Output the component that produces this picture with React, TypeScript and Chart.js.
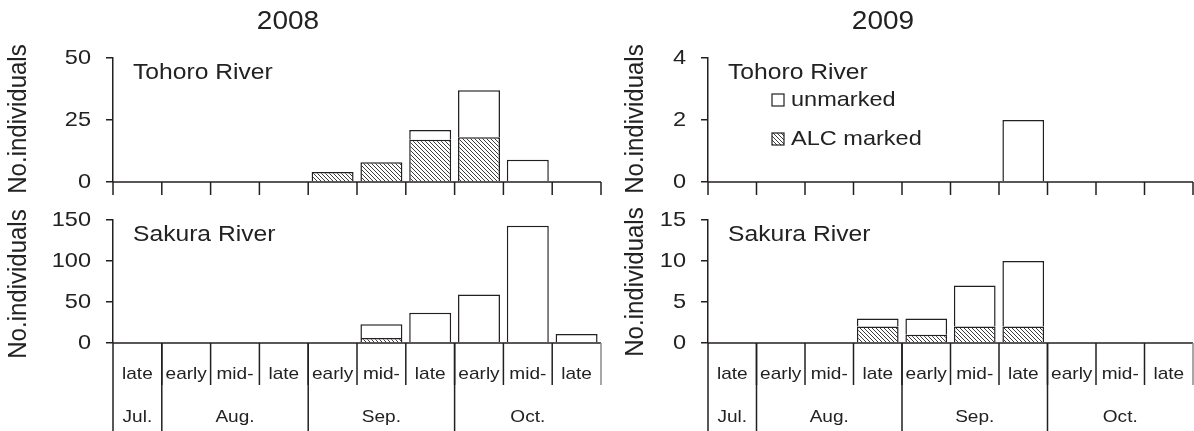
import React, { useEffect, useRef } from "react";
import { Chart, registerables } from "chart.js";

Chart.register(...registerables);

// ---------- data ----------
const categories = ["late", "early", "mid-", "late", "early", "mid-", "late", "early", "mid-", "late"];
const months = ["Jul.", "Aug.", "Sep.", "Oct."];
const monthSpans = [1, 3, 3, 3];

const tohoro2008Marked = [0, 0, 0, 0, 4, 8, 17, 18, 0, 0];
const tohoro2008Unmarked = [0, 0, 0, 0, 0, 0, 4, 19, 9, 0];
const sakura2008Marked = [0, 0, 0, 0, 0, 6, 0, 0, 0, 0];
const sakura2008Unmarked = [0, 0, 0, 0, 0, 17, 37, 59, 143, 11];
const tohoro2009Marked = [0, 0, 0, 0, 0, 0, 0, 0, 0, 0];
const tohoro2009Unmarked = [0, 0, 0, 0, 0, 0, 2, 0, 0, 0];
const sakura2009Marked = [0, 0, 0, 2, 1, 2, 2, 0, 0, 0];
const sakura2009Unmarked = [0, 0, 0, 1, 2, 5, 8, 0, 0, 0];

const yearTitles = ["2008", "2009"];
const riverNames = ["Tohoro River", "Sakura River"];
const yAxisMax = [50, 150, 4, 15];
const yAxisStep = [25, 50, 2, 5];
const legendLabels = ["unmarked", "ALC marked"];
const yAxisTitle = "No.individuals";

// ---------- layout ----------
const W = 1194;
const H = 431;
const FONT = "'Liberation Sans', Arial, sans-serif";
const INK = "#231f20";
const TEXT = "#222222";
const SX = 1.12; // horizontal text stretch seen in the reference

type PanelCfg = {
  left: number; right: number; top: number; bottom: number;
  marked: number[]; unmarked: number[];
  max: number; step: number;
  river: string; kind: "top" | "bottom";
  year?: string; legend?: boolean; titleX: number; titleY: number;
};

const panels: PanelCfg[] = [
  { left: 113, right: 601, top: 58, bottom: 182, marked: tohoro2008Marked, unmarked: tohoro2008Unmarked, max: yAxisMax[0], step: yAxisStep[0], river: riverNames[0], kind: "top", year: yearTitles[0], titleX: 19, titleY: 119 },
  { left: 113, right: 601, top: 220, bottom: 343, marked: sakura2008Marked, unmarked: sakura2008Unmarked, max: yAxisMax[1], step: yAxisStep[1], river: riverNames[1], kind: "bottom", titleX: 19, titleY: 284 },
  { left: 708, right: 1193, top: 58, bottom: 182, marked: tohoro2009Marked, unmarked: tohoro2009Unmarked, max: yAxisMax[2], step: yAxisStep[2], river: riverNames[0], kind: "top", year: yearTitles[1], legend: true, titleX: 636, titleY: 119 },
  { left: 708, right: 1193, top: 220, bottom: 343, marked: sakura2009Marked, unmarked: sakura2009Unmarked, max: yAxisMax[3], step: yAxisStep[3], river: riverNames[1], kind: "bottom", titleX: 636, titleY: 282 },
];

function makeHatch(): CanvasPattern | string {
  const c = document.createElement("canvas");
  c.width = 4;
  c.height = 4;
  const g = c.getContext("2d");
  if (!g) return "#888";
  g.fillStyle = "#ffffff";
  g.fillRect(0, 0, 4, 4);
  g.strokeStyle = "#3c3c3c";
  g.lineWidth = 1;
  g.beginPath();
  g.moveTo(-1, -1); g.lineTo(5, 5);
  g.moveTo(-1, 3); g.lineTo(1, 5);
  g.moveTo(3, -1); g.lineTo(5, 1);
  g.stroke();
  return g.createPattern(c, "repeat") || "#888";
}

function line(ctx: CanvasRenderingContext2D, x1: number, y1: number, x2: number, y2: number) {
  ctx.beginPath();
  ctx.moveTo(x1, y1);
  ctx.lineTo(x2, y2);
  ctx.stroke();
}

function sText(ctx: CanvasRenderingContext2D, text: string, x: number, y: number, align: CanvasTextAlign, size: number) {
  ctx.save();
  ctx.translate(x, y);
  ctx.scale(SX, 1);
  ctx.font = `${size}px ${FONT}`;
  ctx.textAlign = align;
  ctx.fillText(text, 0, 0);
  ctx.restore();
}

function Panel({ cfg }: { cfg: PanelCfg }) {
  const ref = useRef<HTMLCanvasElement>(null);
  useEffect(() => {
    if (!ref.current) return;
    const hatch = makeHatch();
    const Y_W = 90;

    const panelPlugin = {
      id: "panelDecor",
      afterDraw(chart: any) {
        const ctx: CanvasRenderingContext2D = chart.ctx;
        const xs = chart.scales.x;
        const ys = chart.scales.y;
        const ca = chart.chartArea;
        const n = categories.length;
        const half = (xs.getPixelForValue(1) - xs.getPixelForValue(0)) / 2;
        const bounds: number[] = [];
        for (let i = 0; i <= n; i++) {
          bounds.push(i < n ? xs.getPixelForValue(i) - half : xs.getPixelForValue(n - 1) + half);
        }
        const base = ys.getPixelForValue(0);
        ctx.save();
        ctx.strokeStyle = INK;
        ctx.lineWidth = 1.5;
        line(ctx, ca.left, base, ca.right, base);

        ctx.fillStyle = TEXT;
        ctx.textBaseline = "middle";

        // y tick labels
        for (const t of ys.ticks) {
          sText(ctx, String(t.value), ca.left - 22, ys.getPixelForValue(t.value), "right", 21);
        }

        if (cfg.kind === "top") {
          for (let i = 0; i <= n; i++) line(ctx, bounds[i], base, bounds[i], base + 13);
        } else {
          const catBottom = base + 42;
          for (let i = 1; i < n; i++) line(ctx, bounds[i], base, bounds[i], catBottom);
          ctx.strokeStyle = "#8a8a8a";
          line(ctx, bounds[n], base, bounds[n], catBottom);
          ctx.strokeStyle = INK;
          let acc = 0;
          const mb: number[] = [];
          for (let m = 0; m < monthSpans.length; m++) { mb.push(acc); acc += monthSpans[m]; }
          for (const idx of mb) line(ctx, bounds[idx], base, bounds[idx], H);

          for (let i = 0; i < n; i++) sText(ctx, categories[i], xs.getPixelForValue(i), base + 31, "center", 17);
          acc = 0;
          for (let m = 0; m < months.length; m++) {
            const x0 = bounds[acc];
            const x1 = bounds[acc + monthSpans[m]];
            sText(ctx, months[m], (x0 + x1) / 2, base + 74, "center", 17);
            acc += monthSpans[m];
          }
        }

        // river label
        ctx.textBaseline = "alphabetic";
        sText(ctx, cfg.river, ca.left + 20, ca.top + 21, "left", 22);

        // y axis title
        ctx.save();
        ctx.translate(cfg.titleX, cfg.titleY);
        ctx.rotate(-Math.PI / 2);
        ctx.scale(1, 1.08);
        ctx.textAlign = "center";
        ctx.textBaseline = "middle";
        ctx.font = `24px ${FONT}`;
        ctx.fillText(yAxisTitle, 0, 0);
        ctx.restore();

        // year title
        if (cfg.year) {
          ctx.textBaseline = "middle";
          sText(ctx, cfg.year, ca.left + 175, 22, "center", 25);
        }

        // legend
        if (cfg.legend) {
          const lx = ca.left + 64;
          const rows = [
            { label: legendLabels[0], fill: "#ffffff" as any, y: 100 },
            { label: legendLabels[1], fill: hatch as any, y: 139 },
          ];
          ctx.textBaseline = "middle";
          ctx.lineWidth = 1.2;
          for (const r of rows) {
            ctx.fillStyle = r.fill;
            ctx.fillRect(lx, r.y - 6, 12, 12);
            ctx.strokeStyle = INK;
            ctx.strokeRect(lx, r.y - 6, 12, 12);
            ctx.fillStyle = TEXT;
            sText(ctx, r.label, lx + 19, r.y, "left", 21);
          }
        }
        ctx.restore();
      },
    };

    const chart = new Chart(ref.current, {
      type: "bar",
      data: {
        labels: categories,
        datasets: [
          {
            label: legendLabels[1],
            data: cfg.marked.map((v) => (v ? v : null)),
            backgroundColor: hatch as any,
            borderColor: INK,
            borderWidth: 1.5,
            borderSkipped: "start",
            barPercentage: 0.86,
            categoryPercentage: 1,
          },
          {
            label: legendLabels[0],
            data: cfg.unmarked.map((v) => (v ? v : null)),
            backgroundColor: "#ffffff",
            borderColor: INK,
            borderWidth: 1.5,
            borderSkipped: "start",
            barPercentage: 0.86,
            categoryPercentage: 1,
          },
        ],
      },
      options: {
        animation: false,
        responsive: false,
        maintainAspectRatio: false,
        events: [],
        layout: {
          padding: { left: cfg.left - Y_W, right: W - cfg.right, top: cfg.top, bottom: H - cfg.bottom },
        },
        plugins: {
          legend: { display: false },
          tooltip: { enabled: false },
          title: { display: false },
        },
        scales: {
          x: { stacked: true, display: false, offset: true },
          y: {
            stacked: true,
            min: 0,
            max: cfg.max,
            ticks: { stepSize: cfg.step, display: false },
            grid: { drawOnChartArea: false, drawTicks: true, tickLength: 7, color: INK, lineWidth: 1.5 },
            border: { display: true, color: INK, width: 1.5 },
            afterFit: (s: any) => { s.width = Y_W; },
          },
        },
      },
      plugins: [panelPlugin],
    } as any);
    return () => chart.destroy();
  }, [cfg]);
  return (
    <canvas
      ref={ref}
      width={W}
      height={H}
      style={{ position: "absolute", left: 0, top: 0, width: W, height: H }}
    />
  );
}

export default function App() {
  return (
    <div style={{ position: "absolute", left: 0, top: 0, width: W, height: H, background: "#ffffff", overflow: "hidden" }}>
      {panels.map((p, i) => (
        <Panel key={i} cfg={p} />
      ))}
    </div>
  );
}
